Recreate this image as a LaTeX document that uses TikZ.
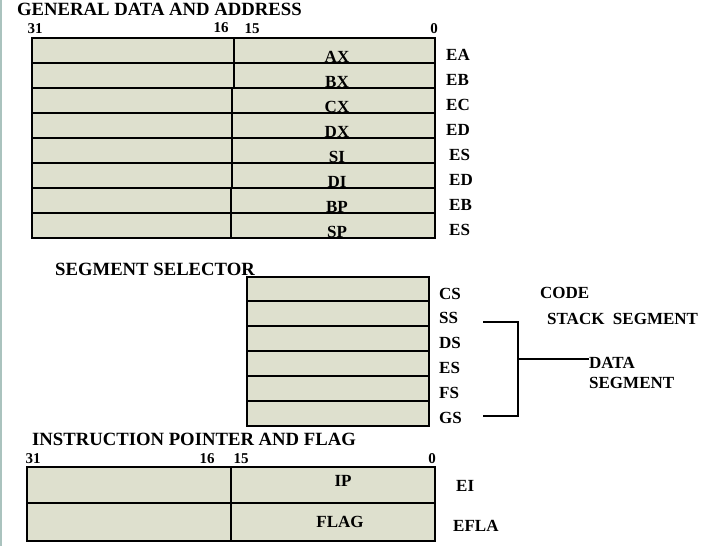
\documentclass[tikz,border=0pt]{standalone}
\usepackage{fontspec}
\setmainfont{Liberation Serif}
\definecolor{cellfill}{RGB}{222,224,206}
\definecolor{edgecol}{RGB}{170,195,190}
\begin{document}
\begin{tikzpicture}[x=1pt,y=-1pt,
  cell/.style={draw, fill=cellfill, line width=1.3pt, inner sep=0pt, outer sep=0pt, anchor=north west},
  lbl/.style={font=\fontsize{17}{17}\selectfont\bfseries, inner sep=0pt, anchor=base},
  lblw/.style={font=\fontsize{17}{17}\selectfont\bfseries, inner sep=0pt, anchor=base west},
  ttl/.style={font=\fontsize{18.7}{18.7}\selectfont\bfseries, inner sep=0pt, text depth=0pt, anchor=base west},
  num/.style={font=\fontsize{15}{15}\selectfont\bfseries, inner sep=0pt, anchor=base},
  wire/.style={line width=1.3pt},
  thick line/.style={line width=2.2pt}
  ]
\useasboundingbox (0,0) rectangle (728,546);
\fill[edgecol] (0,0) rectangle (2,546);

% ---------- general data and address ----------
\node[ttl] (t1) at (17,16) {GENERAL DATA AND ADDRESS};
\node[num] (n31a) at (35,33) {31};
\node[num] (n16a) at (221,32) {16};
\node[num] (n15a) at (252,33) {15};
\node[num] (n0a) at (434,33) {0};

\foreach \i/\y/\d/\reg/\ext/\ex in {1/38/234/AX/EA/446, 2/63/234/BX/EB/446, 3/88/232/CX/EC/446, 4/113/232/DX/ED/446, 5/138/232/SI/ES/449, 6/163/232/DI/ED/449, 7/188/231/BP/EB/449, 8/213/231/SP/ES/449}{
  \node[cell, minimum width={\d-32}, minimum height=25] (L\i) at (32,\y) {};
  \node[cell, minimum width={435-\d}, minimum height=25] (R\i) at (\d,\y) {};
  \node[lbl] (reg\i) at (337,\y+24) {\reg};
  \node[lblw] (ext\i) at (\ex,\y+22) {\ext};
}
\draw[thick line] (L5.north west) -- (R5.north east);
\draw[thick line] (L6.north west) -- ([xshift=2pt]L6.north east);
\draw[thick line] (L7.north west) -- (R7.north east);

% ---------- segment selector ----------
\node[ttl] (t2) at (55,275) {SEGMENT SELECTOR};
\foreach \i/\y/\s in {1/277/CS, 2/301/SS, 3/326/DS, 4/351/ES, 5/376/FS, 6/401/GS}{
  \node[cell, minimum width=182, minimum height=25] (S\i) at (247,\y) {};
  \node[lblw] (seg\i) at (439,\y+22) {\s};
}
\draw[thick line] (S3.north west) -- (S3.north east);
\draw[thick line] (S4.north west) -- (S4.north east);
\node[lblw] (code) at (540,298) {CODE};
\node[lblw] (stack) at (547,324) {STACK\ \ SEGMENT};
\node[lblw] (data) at (589,368) {DATA};
\node[lblw] (dataseg) at (589,388) {SEGMENT};

\coordinate (b1) at (483,322);
\coordinate (b2) at (518,322);
\coordinate (b3) at (518,416);
\coordinate (b4) at (483,416);
\coordinate (b5) at (518,359);
\draw[wire] (b1) -- (b2) -- (b3) -- (b4);
\draw[wire] (b5) -- (data.west |- b5);

% ---------- instruction pointer and flag ----------
\node[ttl] (t3) at (32,445) {INSTRUCTION POINTER AND FLAG};
\node[num] (n31b) at (33,463) {31};
\node[num] (n16b) at (207,463) {16};
\node[num] (n15b) at (241,463) {15};
\node[num] (n0b) at (432,463) {0};

\node[cell, minimum width=204, minimum height=36] (IL1) at (27,467) {};
\node[cell, minimum width=204, minimum height=36] (IR1) at (231,467) {};
\node[cell, minimum width=204, minimum height=38] (IL2) at (27,503) {};
\node[cell, minimum width=204, minimum height=38] (IR2) at (231,503) {};
\draw[thick line] (IL2.north west) -- (IL2.north east);
\node[lbl] (ip) at (343,486) {IP};
\node[lbl] (flag) at (340,527) {FLAG};
\node[lblw] (ei) at (456,491) {EI};
\node[lblw] (efla) at (453,531) {EFLA};
\end{tikzpicture}
\end{document}
